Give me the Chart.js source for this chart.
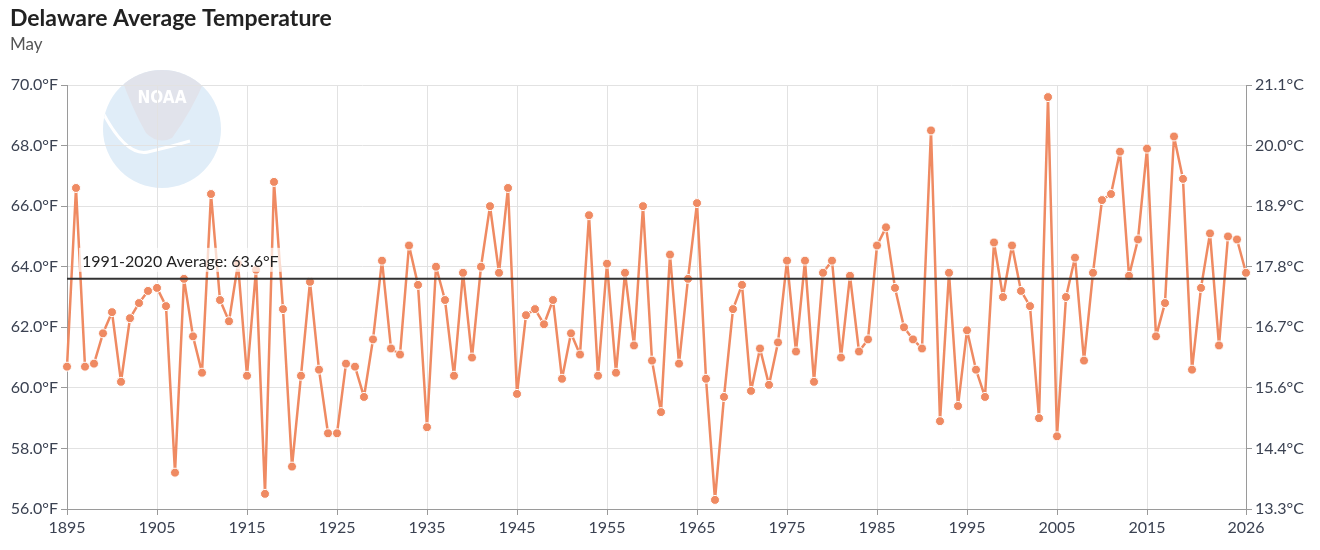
<!DOCTYPE html>
<html>
<head>
<meta charset="utf-8">
<title>Delaware Average Temperature - May</title>
<script src="https://cdn.jsdelivr.net/npm/chart.js@4.4.1/dist/chart.umd.min.js"></script>
<style>
  html, body { margin: 0; padding: 0; background: #fff; }
  #wrap { width: 1320px; height: 550px; position: relative; }
</style>
</head>
<body>
<div id="wrap"><canvas id="tempChart"></canvas></div>
<script>
// --- data ---
const chartTitle = 'Delaware Average Temperature';
const chartSubtitle = 'May';

const years = [
  1895, 1896, 1897, 1898, 1899, 1900, 1901, 1902, 1903, 1904,
  1905, 1906, 1907, 1908, 1909, 1910, 1911, 1912, 1913, 1914,
  1915, 1916, 1917, 1918, 1919, 1920, 1921, 1922, 1923, 1924,
  1925, 1926, 1927, 1928, 1929, 1930, 1931, 1932, 1933, 1934,
  1935, 1936, 1937, 1938, 1939, 1940, 1941, 1942, 1943, 1944,
  1945, 1946, 1947, 1948, 1949, 1950, 1951, 1952, 1953, 1954,
  1955, 1956, 1957, 1958, 1959, 1960, 1961, 1962, 1963, 1964,
  1965, 1966, 1967, 1968, 1969, 1970, 1971, 1972, 1973, 1974,
  1975, 1976, 1977, 1978, 1979, 1980, 1981, 1982, 1983, 1984,
  1985, 1986, 1987, 1988, 1989, 1990, 1991, 1992, 1993, 1994,
  1995, 1996, 1997, 1998, 1999, 2000, 2001, 2002, 2003, 2004,
  2005, 2006, 2007, 2008, 2009, 2010, 2011, 2012, 2013, 2014,
  2015, 2016, 2017, 2018, 2019, 2020, 2021, 2022, 2023, 2024,
  2025, 2026
];

// May average temperature, °F
const mayTemps = [
  60.7, 66.6, 60.7, 60.8, 61.8, 62.5, 60.2, 62.3, 62.8, 63.2,
  63.3, 62.7, 57.2, 63.6, 61.7, 60.5, 66.4, 62.9, 62.2, 64.1,
  60.4, 63.9, 56.5, 66.8, 62.6, 57.4, 60.4, 63.5, 60.6, 58.5,
  58.5, 60.8, 60.7, 59.7, 61.6, 64.2, 61.3, 61.1, 64.7, 63.4,
  58.7, 64.0, 62.9, 60.4, 63.8, 61.0, 64.0, 66.0, 63.8, 66.6,
  59.8, 62.4, 62.6, 62.1, 62.9, 60.3, 61.8, 61.1, 65.7, 60.4,
  64.1, 60.5, 63.8, 61.4, 66.0, 60.9, 59.2, 64.4, 60.8, 63.6,
  66.1, 60.3, 56.3, 59.7, 62.6, 63.4, 59.9, 61.3, 60.1, 61.5,
  64.2, 61.2, 64.2, 60.2, 63.8, 64.2, 61.0, 63.7, 61.2, 61.6,
  64.7, 65.3, 63.3, 62.0, 61.6, 61.3, 68.5, 58.9, 63.8, 59.4,
  61.9, 60.6, 59.7, 64.8, 63.0, 64.7, 63.2, 62.7, 59.0, 69.6,
  58.4, 63.0, 64.3, 60.9, 63.8, 66.2, 66.4, 67.8, 63.7, 64.9,
  67.9, 61.7, 62.8, 68.3, 66.9, 60.6, 63.3, 65.1, 61.4, 65.0,
  64.9, 63.8
];

const normalPeriod = '1991-2020';
const normalAvg = 63.6;

const xTickYears = [1895, 1905, 1915, 1925, 1935, 1945, 1955, 1965, 1975, 1985, 1995, 2005, 2015, 2026];
const yMinF = 56;
const yMaxF = 70;
const yStepF = 2;

// --- helpers ---
const fmtF = v => v.toFixed(1) + '°F';
const fmtC = v => ((v - 32) * 5 / 9).toFixed(1) + '°C';

const tickColor = '#3b4252';
const axisGrey = '#9a9a9a';
const tickFont = { family: 'Lato', size: 16 };

// faint NOAA roundel behind the grid
const noaaLogo = {
  id: 'noaaLogo',
  beforeDraw(chart) {
    const { ctx, chartArea } = chart;
    ctx.save();
    ctx.fillStyle = '#fff';
    ctx.fillRect(0, 0, chart.width, chart.height);

    const cx = chartArea.left + 95;
    const cy = chartArea.top + 44;
    const r = 59;
    ctx.translate(cx, cy);
    ctx.beginPath();
    ctx.arc(0, 0, r, 0, Math.PI * 2);
    ctx.clip();
    ctx.fillStyle = '#e0edf8';
    ctx.fillRect(-r, -r, 2 * r, 2 * r);

    // grey head
    ctx.beginPath();
    ctx.moveTo(-44, -62);
    ctx.lineTo(-42, -55);
    ctx.quadraticCurveTo(-30, -20, -16, 4);
    ctx.quadraticCurveTo(-4, 16, 10, 9);
    ctx.quadraticCurveTo(30, -18, 44, -52);
    ctx.lineTo(46, -62);
    ctx.closePath();
    ctx.fillStyle = '#e1e3eb';
    ctx.fill();

    // white swoosh
    ctx.beginPath();
    ctx.moveTo(-60, -18);
    ctx.quadraticCurveTo(-36, 28, -14, 23);
    ctx.quadraticCurveTo(8, 18, 28, 12);
    ctx.strokeStyle = '#fff';
    ctx.lineWidth = 3;
    ctx.stroke();

    ctx.fillStyle = '#fff';
    ctx.font = 'bold 17px "DejaVu Sans Condensed", "Liberation Sans Narrow", sans-serif';
    ctx.textAlign = 'center';
    ctx.textBaseline = 'middle';
    ctx.fillText('NOAA', 0, -30);
    ctx.restore();
  }
};

// label above the normal line
const avgLabel = {
  id: 'avgLabel',
  afterDatasetsDraw(chart) {
    const { ctx, chartArea, scales } = chart;
    const y = scales.y.getPixelForValue(normalAvg);
    const text = `${normalPeriod} Average: ${fmtF(normalAvg)}`;
    ctx.save();
    ctx.font = '16px Lato';
    const w = ctx.measureText(text).width;
    const x = chartArea.left + 15;
    ctx.fillStyle = 'rgba(255,255,255,0.7)';
    ctx.fillRect(x - 3, y - 31, w + 6, 24);
    ctx.fillStyle = '#222';
    ctx.textBaseline = 'middle';
    ctx.fillText(text, x, y - 17);
    ctx.restore();
  }
};

const ctx = document.getElementById('tempChart').getContext('2d');
const tempChart = new Chart(ctx, {
  type: 'line',
  data: {
    datasets: [
      {
        label: normalPeriod + ' Average',
        data: [{ x: years[0], y: normalAvg }, { x: years[years.length - 1], y: normalAvg }],
        borderColor: '#333',
        borderWidth: 2,
        pointRadius: 0,
        pointHoverRadius: 0,
        order: 0
      },
      {
        label: 'May Average Temperature',
        data: years.map((yr, i) => ({ x: yr, y: mayTemps[i] })),
        borderColor: '#ef8a62',
        backgroundColor: '#ef8a62',
        borderWidth: 2.5,
        borderJoinStyle: 'round',
        pointRadius: 4.5,
        pointBackgroundColor: '#ef8a62',
        pointBorderColor: '#fff',
        pointBorderWidth: 1,
        tension: 0,
        clip: false,
        order: 1
      }
    ]
  },
  options: {
    responsive: true,
    maintainAspectRatio: false,
    animation: false,
    layout: { padding: { left: 10, right: 0, top: 0, bottom: 0 } },
    plugins: {
      legend: { display: false },
      title: {
        display: true,
        text: chartTitle,
        align: 'start',
        color: '#222',
        font: { family: 'Lato', size: 23, weight: 'bold' },
        padding: { top: 5, bottom: 0 }
      },
      subtitle: {
        display: true,
        text: chartSubtitle,
        align: 'start',
        color: '#555',
        font: { family: 'Lato', size: 17 },
        padding: { top: 2, bottom: 30 }
      }
    },
    scales: {
      x: {
        type: 'linear',
        min: years[0],
        max: years[years.length - 1],
        afterBuildTicks: scale => { scale.ticks = xTickYears.map(v => ({ value: v })); },
        afterFit: scale => { scale.height = 41; },
        ticks: { callback: v => String(v), color: tickColor, font: tickFont, maxRotation: 0, autoSkip: false },
        grid: { color: '#e2e2e2', tickColor: axisGrey, tickLength: 6 },
        border: { color: axisGrey }
      },
      y: {
        min: yMinF,
        max: yMaxF,
        afterFit: scale => { scale.width = 57; },
        ticks: { stepSize: yStepF, callback: fmtF, color: tickColor, font: tickFont },
        grid: { color: '#e2e2e2', tickColor: axisGrey, tickLength: 6 },
        border: { color: axisGrey }
      },
      y2: {
        position: 'right',
        min: yMinF,
        max: yMaxF,
        afterFit: scale => { scale.width = 74; },
        ticks: { stepSize: yStepF, callback: fmtC, color: tickColor, font: tickFont },
        grid: { drawOnChartArea: false, tickColor: axisGrey, tickLength: 6 },
        border: { color: axisGrey }
      }
    }
  },
  plugins: [noaaLogo, avgLabel]
});
</script>
</body>
</html>
